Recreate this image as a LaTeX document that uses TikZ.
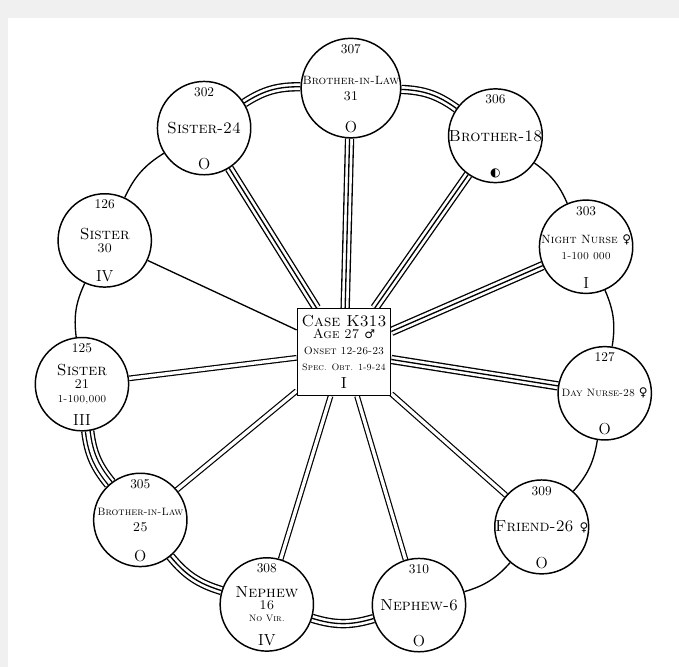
\documentclass[tikz,border=0pt]{standalone}
\usepackage{fontspec}
\newfontfamily\dejavu{DejaVu Sans}
\usetikzlibrary{backgrounds}
\newcommand{\malesign}{{\dejavu\small ♂}}
\newcommand{\femsign}{{\dejavu\small ♀}}
\begin{document}
\begin{tikzpicture}[x=0.75pt, y=0.75pt,
  kin/.style={circle, draw, line width=1.1pt, fill=white, minimum size=70pt, inner sep=0pt, align=center, font=\scshape},
  num/.style={anchor=north, yshift=-5pt, inner sep=0pt, font=\normalsize},
  sign/.style={anchor=south, yshift=4pt, inner sep=0pt, font=\large\rmfamily},
  casebox/.style={rectangle, draw, line width=1.1pt, fill=white, minimum width=70pt, minimum height=65pt, inner sep=0pt, align=center, font=\scshape},
  one/.style={line width=1pt},
  two/.style={double, double distance=2.5pt, line width=0.9pt},
  three/.style={line width=1pt, preaction={draw, line width=7pt}, preaction={draw, white, line width=5pt}},
  four/.style={white, line width=2.5pt, preaction={draw, black, line width=10pt}, preaction={draw, white, line width=8pt}, preaction={draw, black, line width=4.5pt}}]
  \useasboundingbox (-344,-315) rectangle (335,352);

  % case in the middle
  \node[casebox] (case) at (0,0) {{\large Case K313}\\[-3pt] Age 27 \malesign\\[0pt] {\footnotesize Onset 12-26-23}\\[0pt] {\scriptsize Spec. Obt. 1-9-24}\\[1pt] {\large\rmfamily I}};

  % contacts round the ring
  \node[kin, label={[num]north:307}, label={[sign]south:O}] (k307) at (88.5:264) {\small Brother-in-Law\\ 31};
  \node[kin, label={[num]north:306}, label={[sign]south:{\dejavu\small ◐}}] (k306) at (55:264) {\large Brother-18};
  \node[kin, label={[num]north:303}, label={[sign]south:I}] (k303) at (23.5:264) {\small Night Nurse \femsign\\ {\footnotesize 1-100 000}};
  \node[kin, label={[num]north:127}, label={[sign]south:O}] (k127) at (-9:264) {\footnotesize Day Nurse-28 \femsign};
  \node[kin, label={[num]north:309}, label={[sign]south:O}] (k309) at (-41.5:264) {\large Friend-26 \femsign};
  \node[kin, label={[num]north:310}, label={[sign]south:O}] (k310) at (-73.5:264) {\large Nephew-6};
  \node[kin, label={[num]north:308}, label={[sign]south:IV}] (k308) at (-107:264) {\large Nephew\\[-3pt] 16\\[-3pt] {\scriptsize No Vir.}};
  \node[kin, label={[num]north:305}, label={[sign]south:O}] (k305) at (-140.5:264) {\footnotesize Brother-in-Law\\ 25};
  \node[kin, label={[num]north:125}, label={[sign]south:III}] (k125) at (-173:264) {\large Sister\\[-2pt] 21\\[-2pt] {\footnotesize 1-100,000}};
  \node[kin, label={[num]north:126}, label={[sign]south:IV}] (k126) at (155:264) {\large Sister\\[-2pt] 30};
  \node[kin, label={[num]north:302}, label={[sign]south:O}] (k302) at (122:264) {\large Sister-24};

  \begin{scope}[on background layer]
    \fill[gray!12] (-344,-315) rectangle (335,352);
    \fill[white] (-336,-315) rectangle (335,334);
    % spokes
    \draw[three] (case) -- (k307);
    \draw[three] (case) -- (k306);
    \draw[three] (case) -- (k303);
    \draw[three] (case) -- (k127);
    \draw[two] (case) -- (k309);
    \draw[two] (case) -- (k310);
    \draw[two] (case) -- (k308);
    \draw[two] (case) -- (k305);
    \draw[two] (case) -- (k125);
    \draw[one] (case) -- (k126);
    \draw[three] (case) -- (k302);
    % ring
    \draw[three] (k306) to[bend right=16.75] (k307);
    \draw[one] (k303) to[bend right=15.75] (k306);
    \draw[one] (k127) to[bend right=16.25] (k303);
    \draw[one] (k309) to[bend right=16.25] (k127);
    \draw[one] (k310) to[bend right=16] (k309);
    \draw[three] (k308) to[bend right=16.75] (k310);
    \draw[three] (k305) to[bend right=16.75] (k308);
    \draw[four] (k125) to[bend right=16.25] (k305);
    \draw[one] (k126) to[bend right=16] (k125);
    \draw[one] (k302) to[bend right=16.5] (k126);
    \draw[three] (k307) to[bend right=16.75] (k302);
  \end{scope}
\end{tikzpicture}
\end{document}
